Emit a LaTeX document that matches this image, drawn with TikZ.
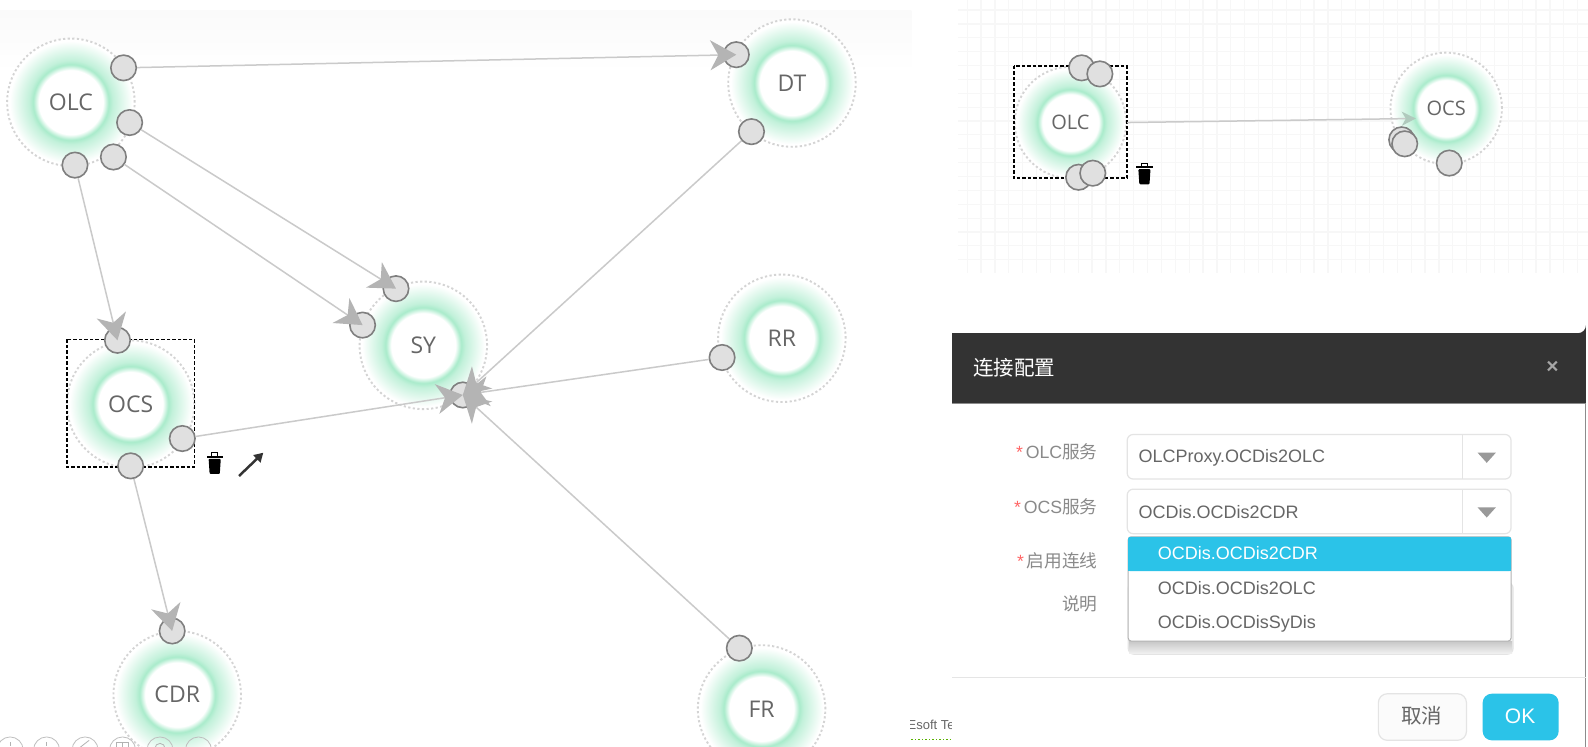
\documentclass[tikz,border=0pt]{standalone}
\usepackage{fontspec}
\setmainfont{Open Sans}
\newfontfamily\dlgfont{Liberation Sans}
\newfontfamily\cjkfont{Noto Sans CJK SC}
\usetikzlibrary{arrows.meta,calc}

\definecolor{ringgreen}{HTML}{A9EBCB}
\definecolor{portgray}{HTML}{E0E0E0}
\definecolor{portline}{HTML}{7F7F7F}
\definecolor{linkgray}{HTML}{CACACA}
\definecolor{tipgray}{HTML}{B4B4B4}
\definecolor{okblue}{HTML}{2BC3E8}
\definecolor{fieldline}{HTML}{E4E4E4}
\definecolor{labelgray}{HTML}{8A8A8A}
\definecolor{textgray}{HTML}{666666}

\pgfdeclareradialshading{glowring}{\pgfpointorigin}{
    color(0bp)=(white); color(12.6bp)=(white); color(14.8bp)=(ringgreen);
    color(16.5bp)=(ringgreen!70!white); color(24bp)=(white); color(50bp)=(white)}

\tikzset{
    service/.style={circle, minimum size=127.5pt, inner sep=0pt, shade, shading=glowring,
        draw=black!17, line width=1.9pt, dash pattern=on 2.2pt off 2.4pt, text=textgray,
        font=\fontsize{23}{23}\selectfont},
    miniservice/.style={service, minimum size=111.5pt, font=\fontsize{20}{20}\selectfont},
    port/.style={circle, minimum size=25.5pt, inner sep=0pt, fill=portgray, draw=portline, line width=1.6pt},
    link/.style={draw=linkgray, line width=1.5pt},
    arrowlink/.style={link, -{Stealth[length=26pt,width=30pt,inset=8pt,color=tipgray]}},
    selbox/.style={draw=black, line width=1.5pt, dash pattern=on 3.5pt off 2pt},
    field/.style={draw=fieldline, line width=1.2pt, rounded corners=6pt, fill=white},
    formlabel/.style={anchor=east, inner sep=0pt, text=labelgray, font=\dlgfont\fontsize{17.7}{17.7}\selectfont},
    fieldtext/.style={anchor=west, inner sep=0pt, text=textgray, font=\dlgfont\fontsize{18}{18}\selectfont},
    toolcircle/.style={circle, minimum size=26pt, inner sep=0pt, draw=black!25, line width=.8pt}
}

\newcommand{\trashicon}[1]{%
    \fill[black, rounded corners=1pt] ($(#1)+(-6,-5)$) -- ($(#1)+(6,-5)$) -- ($(#1)+(5,10)$) -- ($(#1)+(-5,10)$) -- cycle;
    \fill[black] ($(#1)+(-8,-8)$) rectangle ($(#1)+(8,-6)$);
    \draw[black, line width=1pt] ($(#1)+(-3,-8)$) -- ($(#1)+(-3,-11)$) -- ($(#1)+(3,-11)$) -- ($(#1)+(3,-8)$);
}

\begin{document}
\begin{tikzpicture}[x=1.0128pt,y=-1.0128pt]
\clip (0,0) rectangle (1568,737.55);
\fill[white] (0,0) rectangle (1568,737.55);

% left canvas
\shade[top color=black!2, bottom color=white] (0,10) rectangle (900,72);

% right canvas grid
\foreach \xpos in {0,...,44}
    \draw[black!3, line width=1.2pt] ({955+13.7*\xpos},0) -- ({955+13.7*\xpos},270);
\foreach \ypos in {0,...,18}
    \draw[black!3, line width=1.2pt] (946,{9.9+13.7*\ypos}) -- (1568,{9.9+13.7*\ypos});

% services
\node[service] (olc) at (70,101) {OLC};
\node[service] (dt) at (782,82) {DT};
\node[service] (sy) at (418,341) {SY};
\node[service] (rr) at (772,334) {RR};
\node[service] (ocs) at (129,399) {OCS};
\node[service] (cdr) at (175,686) {CDR};
\node[service] (fr) at (752,700) {FR};

\node[miniservice] (olcmini) at (1057,121) {OLC};
\node[miniservice] (ocsmini) at (1428,107) {OCS};

% toolbar, cut off by the page
\foreach \xpos in {10,46,84,121,158,196}
    \node[toolcircle] (tool\xpos) at (\xpos,740.5) {};
\draw[black!30, line width=.8pt] (10,733) -- (10,737);
\draw[black!30, line width=.8pt] (46,733) -- (46,737);
\draw[black!30, line width=.8pt] (79,738) -- (88,731);
\draw[black!30, line width=.8pt] (115,733) rectangle (127,745);
\draw[black!30, line width=.8pt] (121,733) -- (121,745);
\draw[black!30, line width=.8pt] (158,739) circle (5);

% selection frames
\draw[selbox] (66,335) rectangle (192,461);
\draw[selbox] (1001,65) rectangle (1113,176);

% ports
\node[port] (olctop) at (122,67) {};
\node[port] (olcright) at (128,121) {};
\node[port] (olcdiag) at (112,155) {};
\node[port] (olcdown) at (74,163) {};
\node[port] (dtin) at (727,54) {};
\node[port] (dtout) at (742,130) {};
\node[port] (syupper) at (391,285) {};
\node[port] (sylower) at (358,321) {};
\node[port] (syhub) at (457,390) {};
\node[port] (rrout) at (713,353) {};
\node[port] (ocsin) at (116,336) {};
\node[port] (ocsright) at (180,433) {};
\node[port] (ocsdown) at (129,460) {};
\node[port] (cdrin) at (170,623) {};
\node[port] (frout) at (730,640) {};

\node[port] (miniA) at (1068,67) {};
\node[port] (miniB) at (1086,73) {};
\node[port] (miniC) at (1065,175) {};
\node[port] (miniD) at (1079,171) {};
\node[port] (miniE) at (1384,138) {};
\node[port] (miniF) at (1387,142) {};
\node[port] (miniG) at (1431,161) {};

% links
\draw[arrowlink] (olctop) -- (dtin.center);
\draw[arrowlink] (olcright) -- (syupper.center);
\draw[arrowlink] (olcdiag) -- (sylower.center);
\draw[arrowlink] (olcdown) -- (ocsin.center);
\draw[arrowlink] (ocsdown) -- (cdrin.center);
\draw[arrowlink] (dtout) -- (syhub.center);
\draw[arrowlink] (frout) -- (syhub.center);
\draw[arrowlink] (rrout) -- (syhub.center);
\draw[arrowlink] (ocsright) -- (syhub.center);

\coordinate (minitip) at (1398,117);
\draw[link, -{Stealth[length=14pt,width=14pt,inset=4pt,color=tipgray!60!ringgreen]}] (olcmini.east) -- (minitip);

% selection tools
\trashicon{212,458}
\trashicon{1130,172}
\coordinate (arrowstart) at (236,470);
\coordinate (arrowend) at (260,447);
\draw[black!80, line width=2.5pt, -{Stealth[length=9pt,width=10pt,inset=0pt]}] (arrowstart) -- (arrowend);

% clipped footer text
\begin{scope}
    \clip (899,700) rectangle (940,740);
    \node[anchor=west, inner sep=0pt, text=textgray, font=\dlgfont\fontsize{13}{13}\selectfont] (esoft) at (896,716) {Esoft Tech};
    \draw[green!50!yellow!70!black, line width=1.5pt, dotted] (900,730) -- (940,730);
\end{scope}

% dialog
\fill[white] (940,329) rectangle (1566,747);
\draw[black!45, line width=1pt] (1566,340) -- (1566,747);
\fill[black!80] (940,398) -- (940,329) -- (1558,329) arc[start angle=90, end angle=0, radius=8] -- (1566,398) -- cycle;
\draw[black!45, line width=1pt] (940,398) -- (1566,398);
\node[anchor=west, inner sep=0pt, text=white, font=\cjkfont\fontsize{20.5}{20.5}\selectfont] (dlgtitle) at (961,363) {连接配置};
\node[inner sep=0pt, text=black!35, font=\dlgfont\bfseries\fontsize{21}{21}\selectfont] (dlgclose) at (1533,363) {×};

\node[formlabel] (lblolc) at (1084,446) {\textcolor{red!60}{*}\,OLC\cjkfont 服务};
\node[formlabel] (lblocs) at (1084,500) {\textcolor{red!60}{*}\,OCS\cjkfont 服务};
\node[formlabel] (lblon) at (1084,554) {\textcolor{red!60}{*}\,\cjkfont 启用连线};
\node[formlabel] (lblnote) at (1084,596) {\cjkfont 说明};

\draw[field] (1113,429) rectangle (1492,473);
\draw[fieldline, line width=1.2pt] (1444,429) -- (1444,473);
\fill[black!40] (1459,447) -- (1477,447) -- (1468,457) -- cycle;
\node[fieldtext] (valolc) at (1124,452) {OLCProxy.OCDis2OLC};

\draw[field] (1113,483) rectangle (1492,527);
\draw[fieldline, line width=1.2pt] (1444,483) -- (1444,527);
\fill[black!40] (1459,501) -- (1477,501) -- (1468,511) -- cycle;
\node[fieldtext] (valocs) at (1124,506) {OCDis.OCDis2CDR};

\draw[field, fill=black!5] (1114,575) rectangle (1494,646);
\shade[top color=black!22, bottom color=black!6] (1115,633) rectangle (1493,645);

% dropdown
\draw[black!30, fill=white, line width=1pt, rounded corners=3pt] (1114,530) rectangle (1492,633);
\fill[okblue, rounded corners=2pt] (1114,530) rectangle (1492,564);
\fill[okblue] (1114,540) rectangle (1492,564);
\node[fieldtext, text=white] (optA) at (1143,546) {OCDis.OCDis2CDR};
\node[fieldtext] (optB) at (1143,581) {OCDis.OCDis2OLC};
\node[fieldtext] (optC) at (1143,616) {OCDis.OCDisSyDis};

% footer
\draw[black!10, line width=1pt] (940,669) -- (1566,669);
\draw[fieldline, fill=black!1.5, line width=1.2pt, rounded corners=9pt] (1361,685) rectangle (1448,731);
\node[inner sep=0pt, text=textgray, font=\cjkfont\fontsize{20.5}{20.5}\selectfont] (btncancel) at (1404,707) {取消};
\fill[okblue, rounded corners=9pt] (1464,685) rectangle (1539,731);
\node[inner sep=0pt, text=white, font=\dlgfont\fontsize{21}{21}\selectfont] (btnok) at (1501,707) {OK};

\end{tikzpicture}
\end{document}
